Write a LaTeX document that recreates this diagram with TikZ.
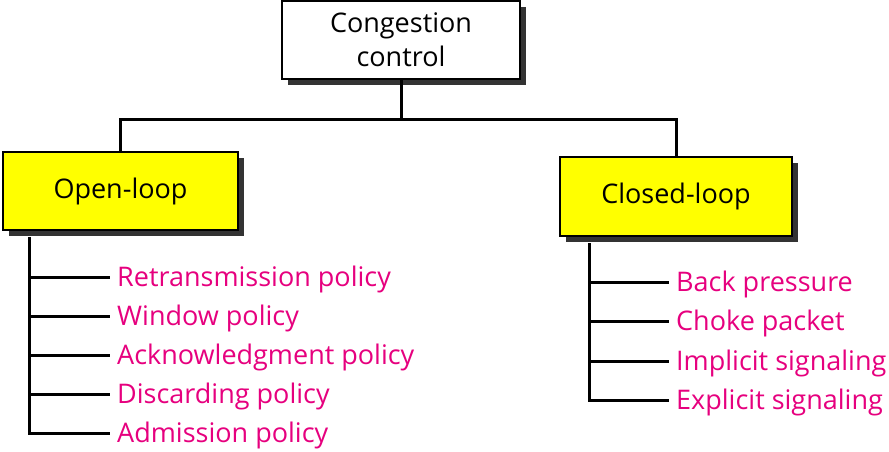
\documentclass[tikz,border=0pt]{standalone}
\usepackage{fontspec}
\setmainfont{Open Sans}
\usetikzlibrary{shadows}
\definecolor{pinktext}{HTML}{E6007E}
\definecolor{boxyellow}{HTML}{FFFF00}
\definecolor{shadowgray}{HTML}{333333}
\begin{document}
\begin{tikzpicture}[x=1pt,y=-1pt,
  boxstyle/.style={draw=black, line width=2pt, rectangle, align=center,
    font=\fontsize{27}{34}\selectfont,
    drop shadow={shadow xshift=6pt, shadow yshift=-6pt, fill=shadowgray, opacity=1}},
  linkstyle/.style={draw=black, line width=3pt},
  leafstyle/.style={anchor=west, text=pinktext, inner xsep=7pt, inner ysep=0pt,
    text height=19.3pt, text depth=0pt,
    font=\fontsize{27}{30}\selectfont},
  ]
\useasboundingbox (0,0) rectangle (889,452);
\node[boxstyle, fill=white, minimum width=238pt, minimum height=78pt] (top) at (401,40) {Congestion\\control};
\node[boxstyle, fill=boxyellow, minimum width=235pt, minimum height=78pt] (open) at (120.5,191) {Open-loop};
\node[boxstyle, fill=boxyellow, minimum width=232pt, minimum height=79pt] (closed) at (676,196.5) {Closed-loop};
\coordinate (bus) at (401,119);
\coordinate (ls) at (29,237);
\coordinate (rs) at (589,243);
% leaves
\node[leafstyle] (l1) at (110,277) {Retransmission policy};
\node[leafstyle] (l2) at (110,316) {Window policy};
\node[leafstyle] (l3) at (110,355) {Acknowledgment policy};
\node[leafstyle] (l4) at (110,394) {Discarding policy};
\node[leafstyle] (l5) at (110,433) {Admission policy};
\node[leafstyle] (r1) at (669,282) {Back pressure};
\node[leafstyle] (r2) at (669,321) {Choke packet};
\node[leafstyle] (r3) at (669,361) {Implicit signaling};
\node[leafstyle] (r4) at (669,400) {Explicit signaling};
% connectors
\draw[linkstyle] (top.south) -- (bus);
\draw[linkstyle, line join=miter] (open.north) |- (bus) -| (closed.north);
\draw[linkstyle, line join=miter] (ls) |- (l5.west);
\foreach \i in {1,2,3,4} \draw[linkstyle] (ls |- l\i.west) -- (l\i.west);
\draw[linkstyle, line join=miter] (rs) |- (r4.west);
\foreach \i in {1,2,3} \draw[linkstyle] (rs |- r\i.west) -- (r\i.west);
\end{tikzpicture}
\end{document}
